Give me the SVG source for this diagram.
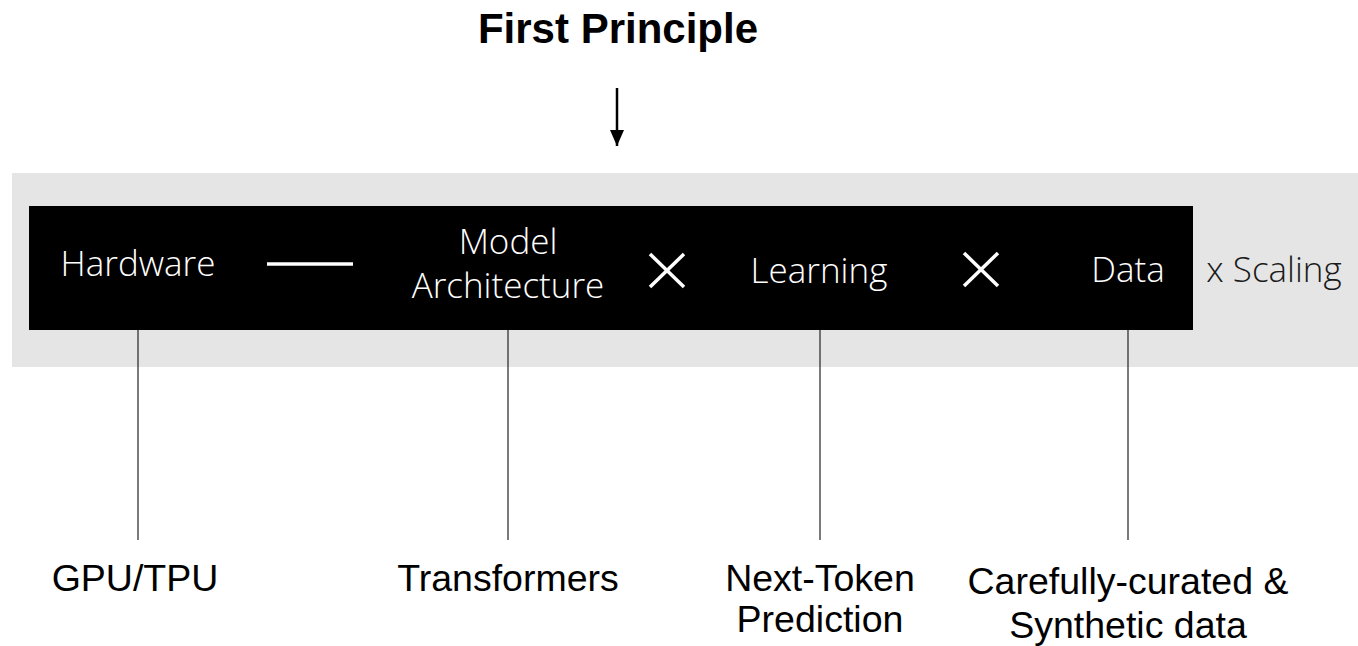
<svg xmlns="http://www.w3.org/2000/svg" width="1358" height="646" viewBox="0 0 1358 646">
  <defs>
    <marker id="arrowhead" viewBox="0 0 16 14" refX="16" refY="7" markerWidth="16" markerHeight="14" markerUnits="userSpaceOnUse" orient="auto">
      <path d="M0 0 L16 7 L0 14 Z" fill="#000"/>
    </marker>
  </defs>
  <style>
    .title { font-family: "Liberation Sans", Arial, sans-serif; font-weight: bold; font-size: 42px; fill: #000; }
    .inner { font-family: "Open Sans", "Noto Sans", sans-serif; font-weight: 300; font-size: 35px; fill: #fff; }
    .outer { font-family: "Open Sans", "Noto Sans", sans-serif; font-weight: 300; font-size: 35px; fill: #1a1a1a; }
    .label { font-family: "Liberation Sans", Arial, sans-serif; font-size: 37.5px; fill: #000; }
    .op { stroke: #fff; stroke-width: 3.5; fill: none; }
    .leader { stroke: #222; stroke-width: 1.2; fill: none; }
  </style>

  <!-- heading -->
  <g id="title">
    <text class="title" x="618" y="43" text-anchor="middle">First Principle</text>
  </g>

  <!-- background band and formula bar -->
  <rect id="band" x="12" y="173" width="1346" height="194" fill="#e5e5e5"/>
  <rect id="bar" x="29" y="206" width="1164" height="124" fill="#000"/>

  <g id="hardware">
    <text class="inner" x="138" y="276" text-anchor="middle">Hardware</text>
  </g>
  <g id="model-architecture">
    <text class="inner" x="508" y="254" text-anchor="middle">Model</text>
    <text class="inner" x="508" y="298" text-anchor="middle">Architecture</text>
  </g>
  <g id="learning">
    <text class="inner" x="819" y="283" text-anchor="middle">Learning</text>
  </g>
  <g id="data">
    <text class="inner" x="1128" y="282" text-anchor="middle">Data</text>
  </g>
  <g id="scaling">
    <text class="outer" x="1274" y="282" text-anchor="middle">x Scaling</text>
  </g>

  <!-- operators between the terms -->
  <g id="operators">
    <line class="op" x1="267" y1="264" x2="353" y2="264" stroke-width="3"/>
    <path class="op" d="M650 254 L684 287 M684 254 L650 287"/>
    <path class="op" d="M964 253 L998 286 M998 253 L964 286"/>
  </g>

  <g id="connectors">
    <line x1="617" y1="88" x2="617" y2="146" stroke="#000" stroke-width="2.5" marker-end="url(#arrowhead)"/>
    <line class="leader" x1="138" y1="330" x2="138" y2="540"/>
    <line class="leader" x1="508" y1="330" x2="508" y2="540"/>
    <line class="leader" x1="820" y1="330" x2="820" y2="540"/>
    <line class="leader" x1="1128" y1="330" x2="1128" y2="540"/>
  </g>

  <g id="gpu-tpu">
    <text class="label" x="135" y="591" text-anchor="middle">GPU/TPU</text>
  </g>
  <g id="transformers">
    <text class="label" x="508" y="591" text-anchor="middle">Transformers</text>
  </g>
  <g id="next-token">
    <text class="label" x="820" y="591" text-anchor="middle">Next-Token</text>
    <text class="label" x="820" y="632" text-anchor="middle">Prediction</text>
  </g>
  <g id="curated-data">
    <text class="label" x="1128" y="594" text-anchor="middle">Carefully-curated &amp;</text>
    <text class="label" x="1128" y="638" text-anchor="middle">Synthetic data</text>
  </g>
</svg>
